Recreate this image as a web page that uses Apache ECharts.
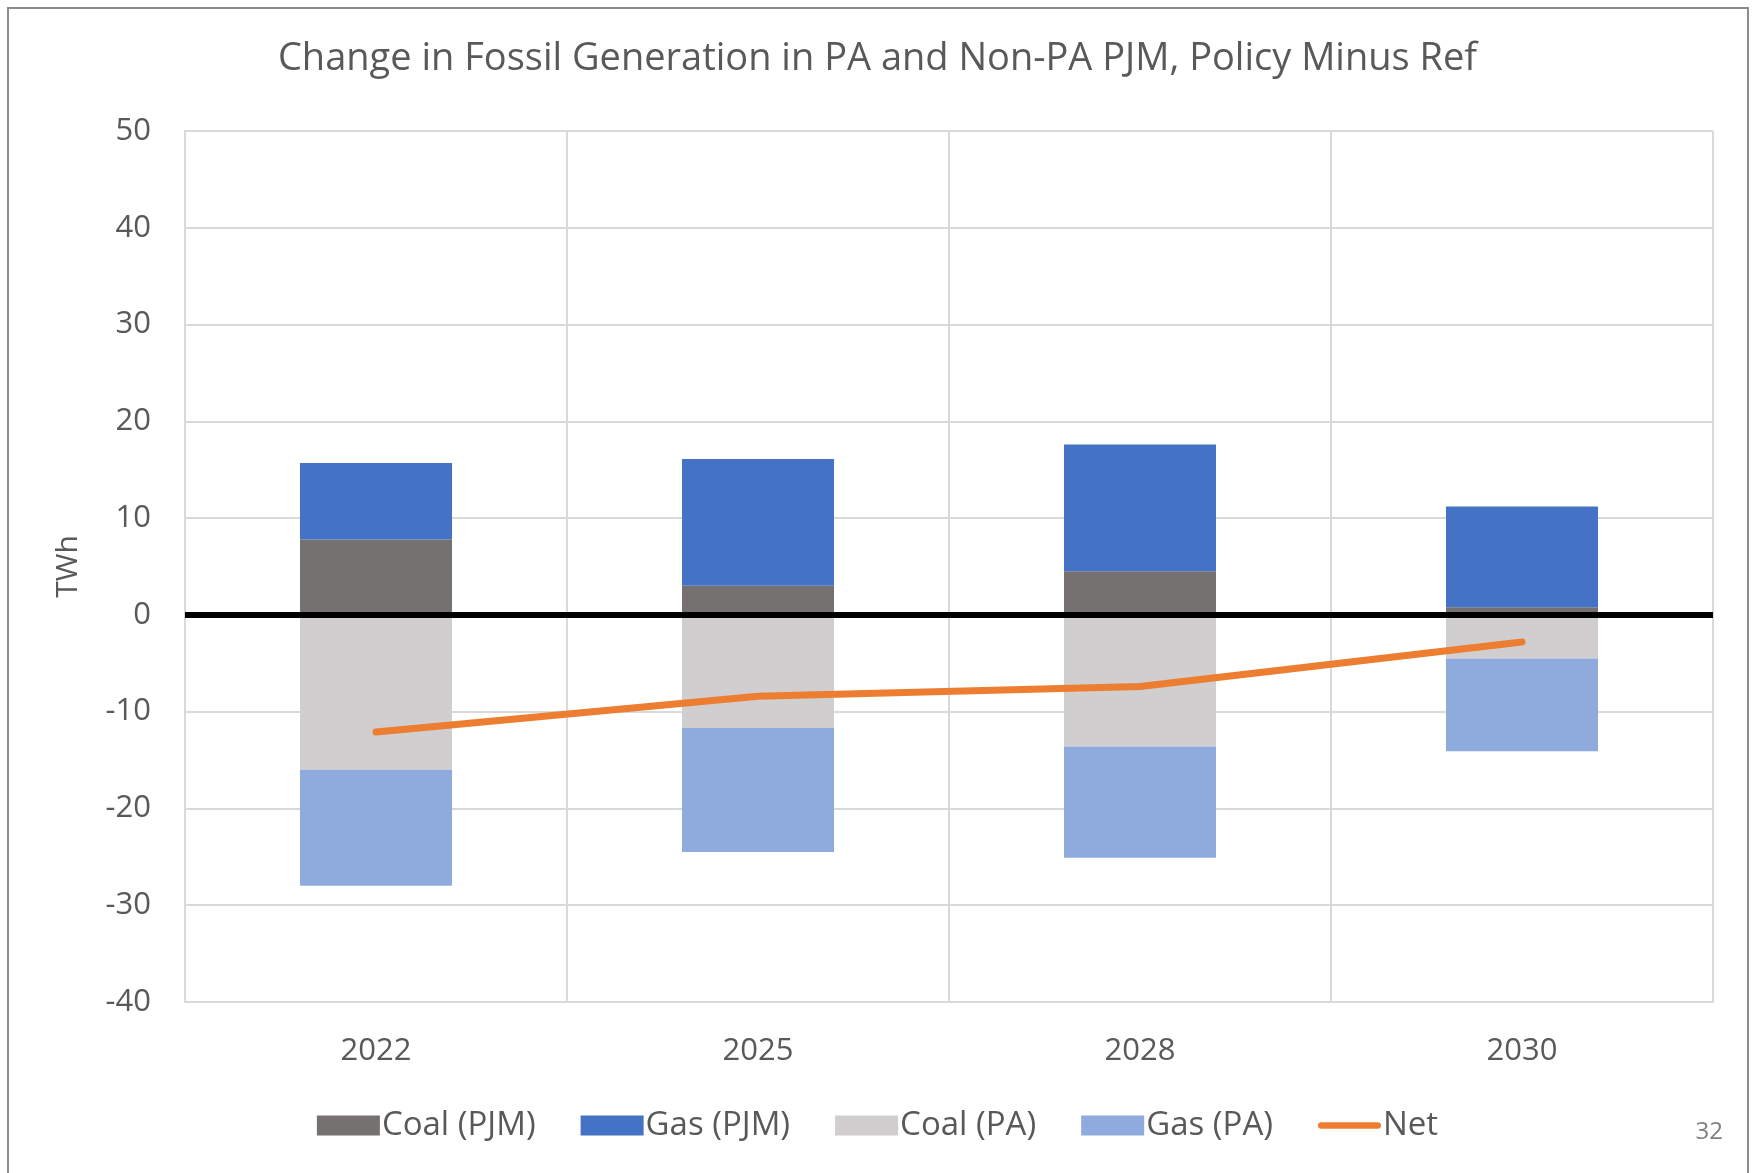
<!DOCTYPE html>
<html>
<head>
<meta charset="utf-8">
<script src="https://cdn.jsdelivr.net/npm/echarts@6/dist/echarts.min.js"></script>
<style>
  html, body { margin: 0; padding: 0; background: #fff; }
  #chartDiv { width: 1755px; height: 1173px; }
</style>
</head>
<body>
<div id="chartDiv"></div>
<script>
// data (TWh, policy minus ref)
var years = ['2022', '2025', '2028', '2030'];
var coalPJM = [7.8, 3.0, 4.5, 0.8];
var gasPJM = [7.9, 13.1, 13.1, 10.4];
var coalPA = [-16.0, -11.7, -13.6, -4.5];
var gasPA = [-12.0, -12.8, -11.5, -9.6];
var net = [-12.1, -8.4, -7.4, -2.8];

var textColor = '#595959';
var gridColor = '#d9d9d9';
var fontName = 'Open Sans';

var dom = document.getElementById('chartDiv');
var myChart = echarts.init(dom);

function barSeries(name, data, color) {
    return {
        name: name,
        type: 'bar',
        stack: 'gen',
        barWidth: 152,
        data: data,
        itemStyle: { color: color }
    };
}

var option = {
    animation: false,
    backgroundColor: '#fff',
    title: {
        text: 'Change in Fossil Generation in PA and Non-PA PJM, Policy Minus Ref',
        left: 'center',
        top: 35,
        textStyle: { fontFamily: fontName, fontSize: 38, fontWeight: 'normal', color: textColor }
    },
    legend: {
        bottom: 26,
        left: 'center',
        itemWidth: 63,
        itemHeight: 20,
        itemGap: 45,
        textStyle: { fontFamily: fontName, fontSize: 33, color: textColor, padding: [0, 0, 0, -3] },
        data: [
            { name: 'Coal (PJM)', icon: 'rect' },
            { name: 'Gas (PJM)', icon: 'rect' },
            { name: 'Coal (PA)', icon: 'rect' },
            { name: 'Gas (PA)', icon: 'rect' },
            { name: 'Net', icon: 'path://M3,0 H57 A3,3 0 0 1 57,6 H3 A3,3 0 0 1 3,0 Z' }
        ]
    },
    grid: { left: 185, right: 42, top: 131, bottom: 171 },
    xAxis: {
        type: 'category',
        data: years,
        axisLine: { onZero: false, lineStyle: { color: gridColor, width: 2 } },
        axisTick: { show: false },
        axisLabel: { fontFamily: fontName, fontSize: 31, color: textColor, margin: 34 },
        splitLine: { show: true, lineStyle: { color: gridColor, width: 2 } }
    },
    yAxis: {
        type: 'value',
        min: -40,
        max: 50,
        interval: 10,
        name: 'TWh',
        nameLocation: 'middle',
        nameGap: 102,
        nameTextStyle: { fontFamily: fontName, fontSize: 30, color: textColor },
        axisLine: { show: true, lineStyle: { color: gridColor, width: 2 } },
        axisTick: { show: false },
        axisLabel: { fontFamily: fontName, fontSize: 31, color: textColor, margin: 34 },
        splitLine: { lineStyle: { color: gridColor, width: 2 } }
    },
    series: [
        barSeries('Coal (PJM)', coalPJM, '#767171'),
        barSeries('Gas (PJM)', gasPJM, '#4472C4'),
        barSeries('Coal (PA)', coalPA, '#D0CECE'),
        barSeries('Gas (PA)', gasPA, '#8FAADC'),
        {
            name: 'Net',
            type: 'line',
            data: net,
            symbol: 'none',
            z: 5,
            lineStyle: { color: '#ED7D31', width: 7, cap: 'round', join: 'round' },
            itemStyle: { color: '#ED7D31' },
            markLine: {
                silent: true,
                symbol: 'none',
                label: { show: false },
                lineStyle: { color: '#000', width: 6, type: 'solid' },
                data: [{ yAxis: 0 }]
            }
        }
    ],
    graphic: [
        {
            type: 'rect',
            shape: { x: 8, y: 8, width: 1740, height: 1200 },
            style: { fill: 'none', stroke: '#8c8c8c', lineWidth: 2 },
            silent: true
        },
        {
            type: 'text',
            right: 32,
            top: 1120,
            style: { text: '32', font: '24px "Open Sans"', fill: '#7f7f7f' }
        }
    ]
};

myChart.setOption(option);
</script>
</body>
</html>
